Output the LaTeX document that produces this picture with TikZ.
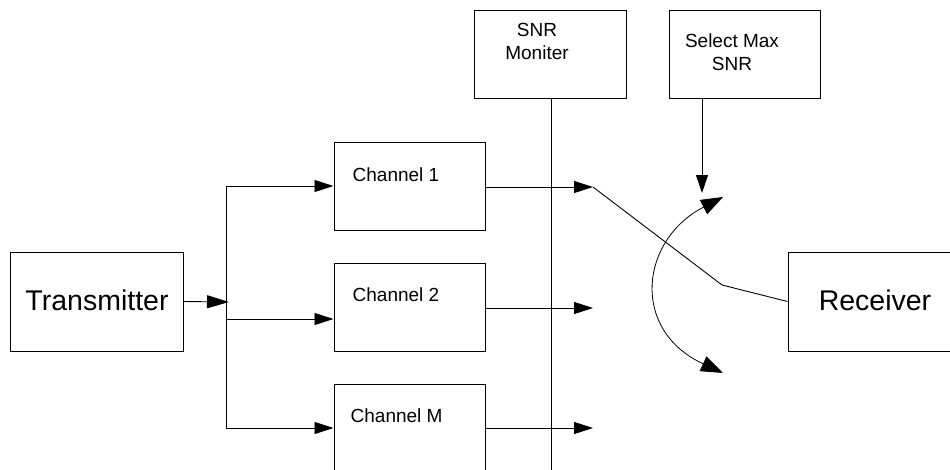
\documentclass[tikz,border=0pt]{standalone}
\usepackage{fontspec}
\setmainfont{Liberation Sans}
\usetikzlibrary{arrows.meta,calc}
\begin{document}
\begin{tikzpicture}[x=1pt,y=-1pt,
  box/.style={draw, line width=1pt, rectangle, inner sep=0pt},
  wire/.style={line width=0.9pt},
  tip/.style={-{Triangle[length=19pt,width=12pt]}},
  bigtip/.style={-{Triangle[length=22pt,width=13pt]}},
  swtip/.style={{Triangle[length=22pt,width=16pt]}-{Triangle[length=22pt,width=16pt]}},
  small/.style={font=\fontsize{19}{23.5}\selectfont, inner sep=0pt},
  big/.style={font=\fontsize{28.5}{34}\selectfont, inner sep=0pt}]
\useasboundingbox (0,0) rectangle (950,469);
\clip (0,0) rectangle (950,469);

% blocks
\node[box, minimum width=173pt, minimum height=99pt] (tx) at (96.5,301.5) {};
\node[box, minimum width=151pt, minimum height=88pt] (ch1) at (409.5,186) {};
\node[box, minimum width=151pt, minimum height=88pt] (ch2) at (409.5,307) {};
\node[box, minimum width=151pt, minimum height=88pt] (chM) at (409.5,428) {};
\node[box, minimum width=152pt, minimum height=88pt] (snr) at (550,54) {};
\node[box, minimum width=151pt, minimum height=88pt] (sel) at (744.5,54) {};
\node[box, minimum width=173pt, minimum height=99pt] (rx) at (874.5,301.5) {};

% block texts
\node[big, anchor=base] (txt) at ($(tx.center)+(0.5,8.5)$) {Transmitter};
\node[big, anchor=base] (rxt) at ($(rx.center)+(0.5,8.5)$) {Receiver};
\node[small, anchor=base west] (ch1t) at ($(ch1.north west)+(19,40)$) {Channel 1};
\node[small, anchor=base west] (ch2t) at ($(ch2.north west)+(19,39)$) {Channel 2};
\node[small, anchor=base west] (chMt) at ($(chM.north west)+(17,39)$) {Channel M};
\node[small, anchor=north, align=center] (snrt) at ($(snr.north)+(-13,13.5)$) {SNR\\Moniter};
\node[small, anchor=north, align=center] (selt) at ($(sel.north)+(-12.5,24)$) {Select Max\\SNR};

% splitting the transmitted signal
\coordinate (j) at (229,302);
\coordinate (b1) at (226,186);
\coordinate (b2) at (226,319);
\coordinate (bM) at (226,428);
\draw[wire, bigtip] (tx.east) -- (j);
\draw[wire] (b1) -- (bM);
\draw[wire, tip] (b1) -- (ch1.west);
\draw[wire, tip] (b2) -- (b2 -| ch2.west);
\draw[wire, tip] (bM) -- (chM.west);

% channel outputs
\coordinate (o1) at (593,187);
\coordinate (o2) at (593,308);
\coordinate (oM) at (593,428);
\draw[wire, tip] (ch1.east |- o1) -- (o1);
\draw[wire, tip] (ch2.east |- o2) -- (o2);
\draw[wire, tip] (chM.east |- oM) -- (oM);

% SNR monitor bus
\coordinate (bus) at (551,480);
\draw[wire] (snr.south -| bus) -- (bus);

% selection control
\coordinate (selin) at (702,193);
\draw[wire, -{Triangle[length=18pt,width=12pt]}] (sel.south -| selin) -- (selin);

% switch
\coordinate (pivot) at (722,285);
\draw[wire] (o1) -- (pivot) -- (rx.west);
\coordinate (swa) at (723,197);
\coordinate (swb) at (723,373);
\draw[line width=0.8pt, swtip] (swa) .. controls (640,240) and (630,330) .. (swb);
\end{tikzpicture}
\end{document}
